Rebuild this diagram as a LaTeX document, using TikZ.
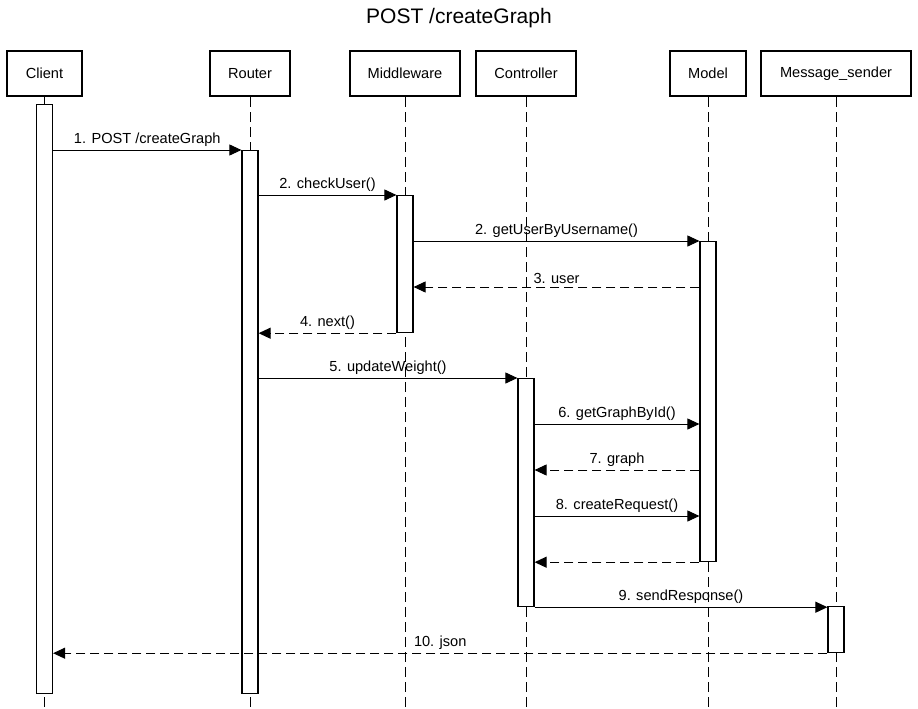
\documentclass[tikz,border=0pt]{standalone}
\usepackage{fontspec}
\setmainfont{Liberation Sans}
\usetikzlibrary{arrows.meta, positioning}

\begin{document}
\begin{tikzpicture}[x=1pt, y=-1pt,
        font=\fontsize{14.6}{17}\selectfont,
        head/.style={draw, line width=2pt, minimum height=45},
        lifeline/.style={line width=1pt, dash pattern=on 10pt off 5pt},
        actbar/.style={draw, fill=white, line width=1.2pt, minimum width=16, anchor=north, inner sep=0pt},
        call/.style={line width=1pt, -{Triangle[length=12pt, width=11pt]}},
        reply/.style={call, dash pattern=on 9pt off 5pt},
        lbl/.style={above, inner sep=3pt}]
    \useasboundingbox (0,0) rectangle (918,709);
    \node[font=\fontsize{21}{25}\selectfont] (title) at (459,18) {POST /createGraph};

    % participants
    \node[head, minimum width=75] (client) at (44.5,73.5) {Client};
    \node[head, minimum width=80] (router) at (250,73.5) {Router};
    \node[head, minimum width=110] (middleware) at (405,73.5) {Middleware};
    \node[head, minimum width=100] (controller) at (526,73.5) {Controller};
    \node[head, minimum width=76] (model) at (708,73.5) {Model};
    \node[head, minimum width=150] (sender) at (836,73.5) {Message\_sender};

    \coordinate (bottom) at (0,709);
    \foreach \h in {client, router, middleware, controller, model, sender}
        \draw[lifeline] (\h.south) -- (\h.south |- bottom);

    % activations
    \node[actbar, minimum height=589] (clientAct) at (44.5,104) {};
    \node[actbar, minimum height=543] (routerAct) at (250,150) {};
    \node[actbar, minimum height=137] (mwAct) at (405,195) {};
    \node[actbar, minimum height=320] (modelAct) at (708,241) {};
    \node[actbar, minimum height=228] (ctrlAct) at (526,378) {};
    \node[actbar, minimum height=46] (senderAct) at (836,606) {};

    \coordinate (m3) at (0,287);
    \coordinate (m6) at (0,424);
    \coordinate (m7) at (0,470);
    \coordinate (m8) at (0,516);

    % messages
    \draw[call] (clientAct.east |- routerAct.north) -- node[lbl] {1. POST /createGraph} (routerAct.north west);
    \draw[call] (routerAct.east |- mwAct.north) -- node[lbl] {2. checkUser()} (mwAct.north west);
    \draw[call] (mwAct.east |- modelAct.north) -- node[lbl] {2. getUserByUsername()} (modelAct.north west);
    \draw[reply] (modelAct.west |- m3) -- node[lbl] {3. user} (mwAct.east |- m3);
    \draw[reply] (mwAct.south west) -- node[lbl] {4. next()} (routerAct.east |- mwAct.south);
    \draw[call] (routerAct.east |- ctrlAct.north) -- node[lbl] {5. updateWeight()} (ctrlAct.north west);
    \draw[call] (ctrlAct.east |- m6) -- node[lbl] {6. getGraphById()} (modelAct.west |- m6);
    \draw[reply] (modelAct.west |- m7) -- node[lbl] {7. graph} (ctrlAct.east |- m7);
    \draw[call] (ctrlAct.east |- m8) -- node[lbl] {8. createRequest()} (modelAct.west |- m8);
    \draw[reply] (modelAct.south west) -- (ctrlAct.east |- modelAct.south);
    \draw[call] (ctrlAct.south east) -- node[lbl] {9. sendResponse()} (senderAct.west |- ctrlAct.south east);
    \draw[reply] (senderAct.south west) -- node[lbl] {10. json} (clientAct.east |- senderAct.south);
\end{tikzpicture}
\end{document}
